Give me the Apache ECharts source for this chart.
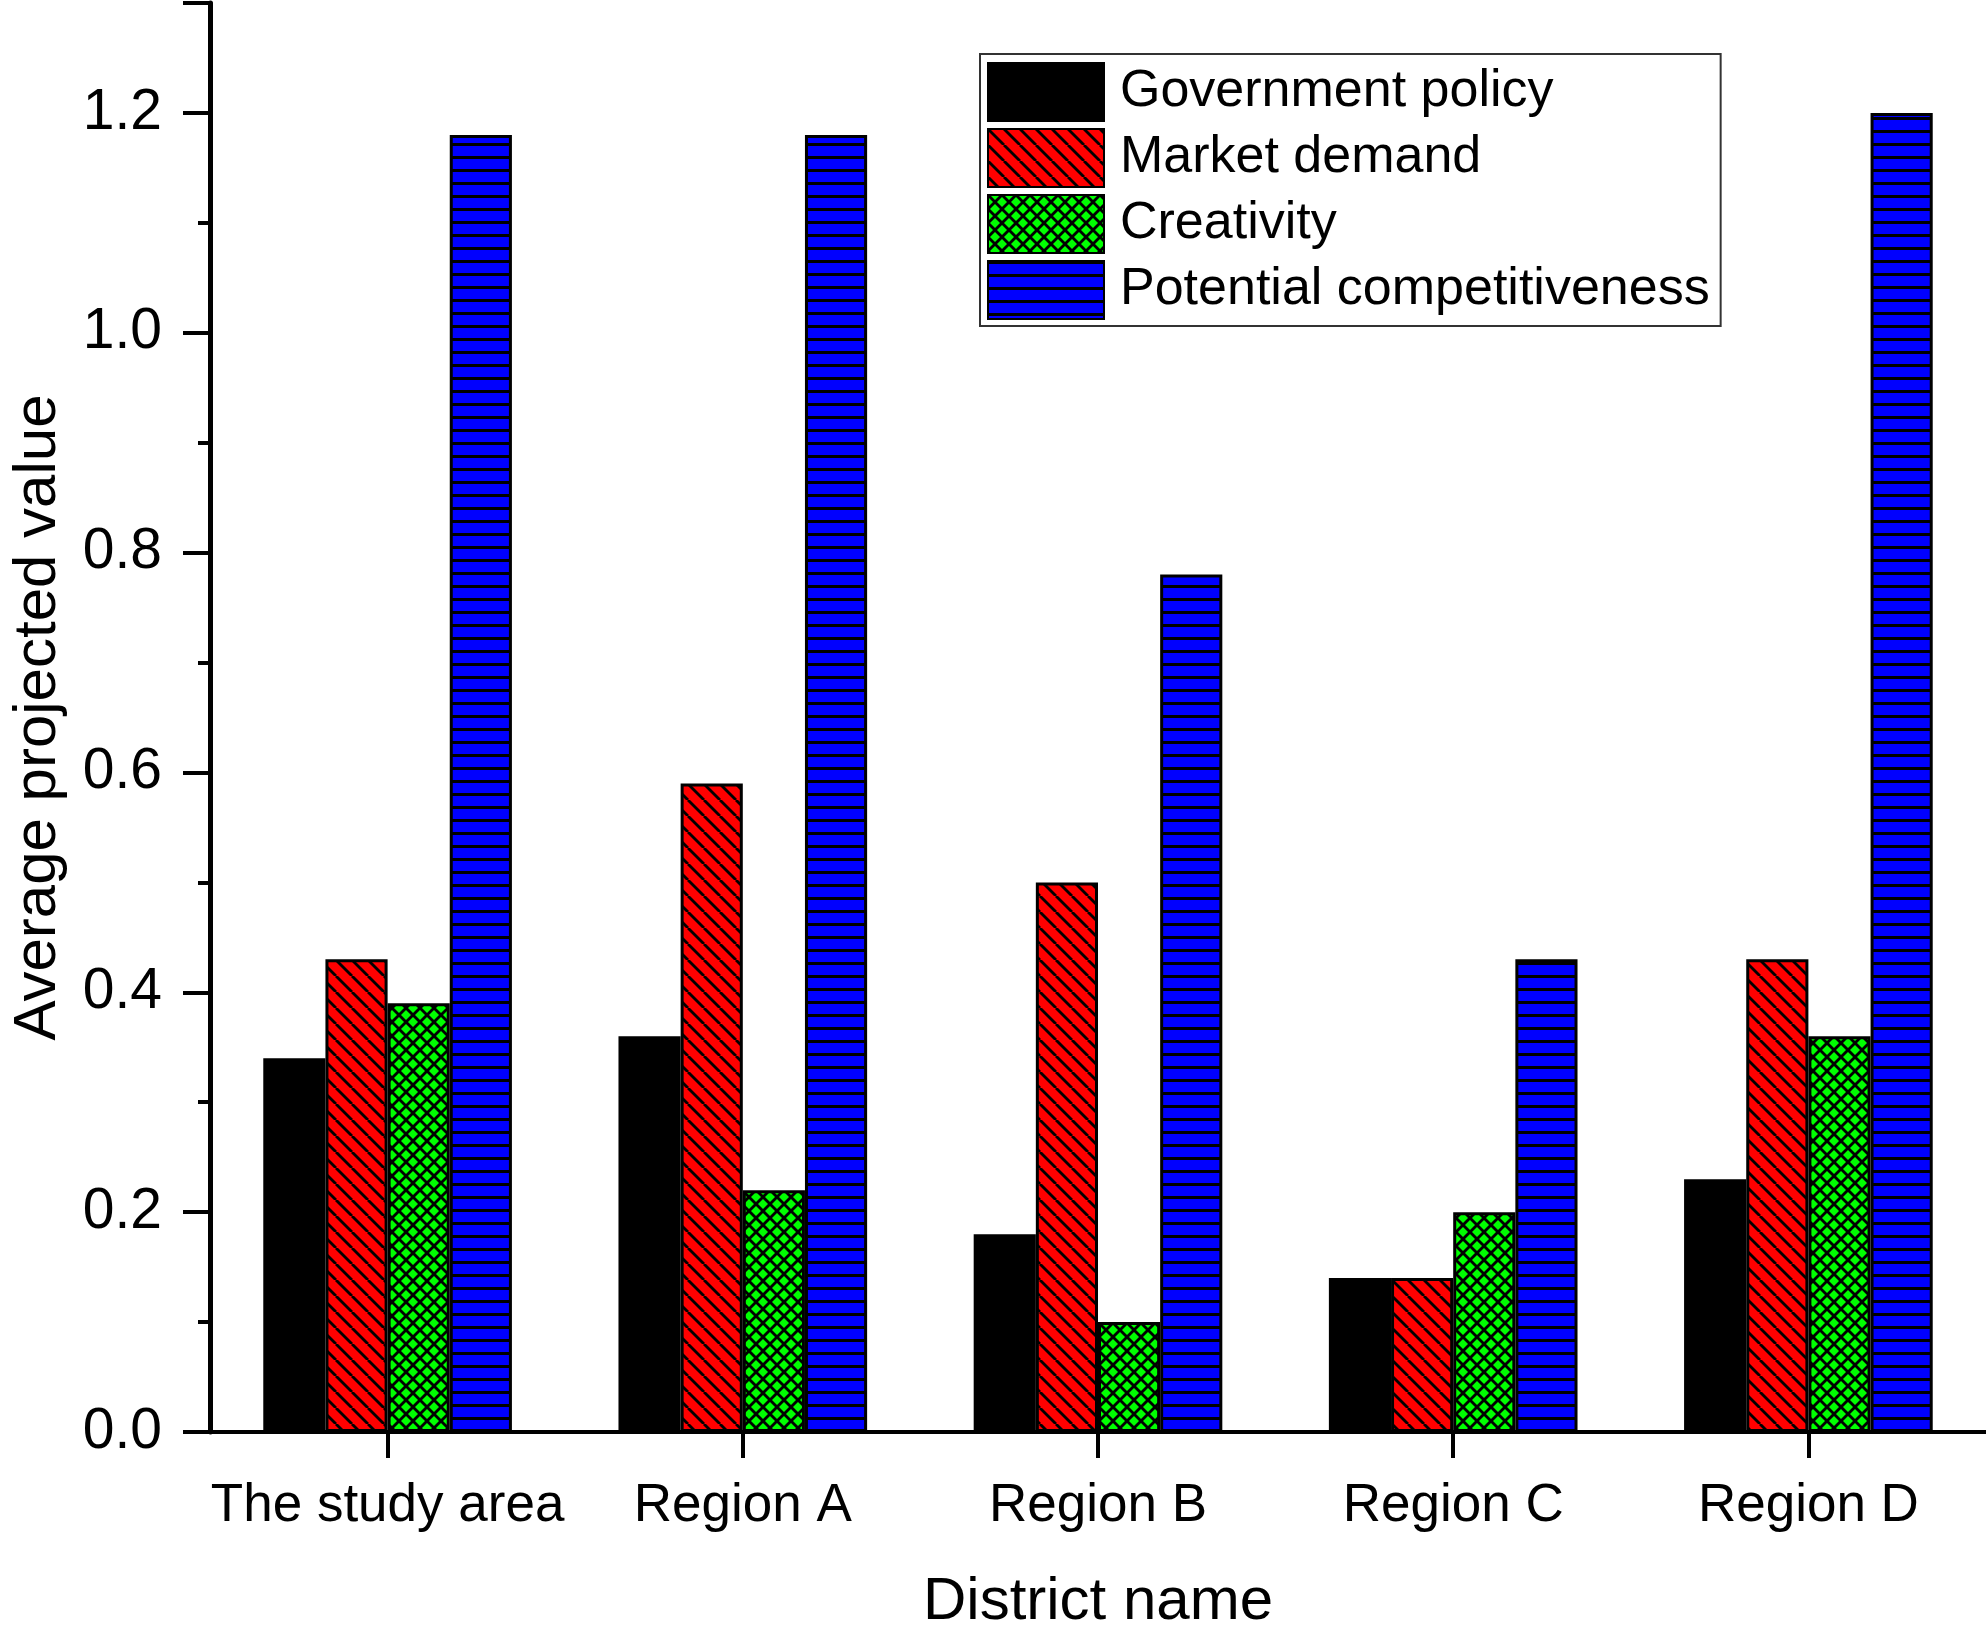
<!DOCTYPE html>
<html>
<head>
<meta charset="utf-8">
<script src="https://cdn.jsdelivr.net/npm/echarts@6/dist/echarts.min.js"></script>
<style>
html,body{margin:0;padding:0;background:#fff;}
#chart{width:1986px;height:1640px;}
</style>
</head>
<body>
<div id="chart"></div>
<script>
var categories = ['The study area', 'Region A', 'Region B', 'Region C', 'Region D'];
var seriesNames = ['Government policy', 'Market demand', 'Creativity', 'Potential competitiveness'];
var governmentPolicy = [0.34, 0.36, 0.18, 0.14, 0.23];
var marketDemand = [0.43, 0.59, 0.50, 0.14, 0.43];
var creativity = [0.39, 0.22, 0.10, 0.20, 0.36];
var potentialCompetitiveness = [1.18, 1.18, 0.78, 0.43, 1.20];
var yTicks = [0.0, 0.2, 0.4, 0.6, 0.8, 1.0, 1.2];

function makePattern(kind, bg, s) {
  var c = document.createElement('canvas');
  if (kind === 'horiz') { c.width = 4; c.height = s; } else { c.width = s; c.height = s; }
  var g = c.getContext('2d');
  g.fillStyle = bg;
  g.fillRect(0, 0, c.width, c.height);
  g.strokeStyle = '#000';
  g.fillStyle = '#000';
  g.lineWidth = 2.8;
  if (kind === 'horiz') {
    g.fillRect(0, 0, 4, 3);
  } else {
    for (var k = -s; k <= s; k += s) {
      g.beginPath(); g.moveTo(k, 0); g.lineTo(k + s, s); g.stroke();
      if (kind === 'cross') {
        g.beginPath(); g.moveTo(k + s, 0); g.lineTo(k, s); g.stroke();
      }
    }
  }
  return { image: c, repeat: 'repeat' };
}

var fills = [
  '#000000',
  makePattern('diag', '#ff0000', 16),
  makePattern('cross', '#00ff00', 14),
  makePattern('horiz', '#0000ff', 13)
];
var dataSets = [governmentPolicy, marketDemand, creativity, potentialCompetitiveness];

var chart = echarts.init(document.getElementById('chart'));
var FONT = 'Liberation Sans, Arial, sans-serif';
var series = seriesNames.map(function (name, i) {
  return {
    name: name,
    type: 'bar',
    data: dataSets[i],
    barGap: '0%',
    barCategoryGap: '30%',
    itemStyle: { color: fills[i], borderColor: '#000', borderWidth: 3 },
    emphasis: { disabled: true }
  };
});

chart.setOption({
  animation: false,
  backgroundColor: '#fff',
  textStyle: { fontFamily: FONT, color: '#000' },
  grid: { left: 210, right: 0, top: 3, bottom: 208, containLabel: false, outerBoundsMode: 'none' },
  legend: {
    orient: 'vertical',
    left: 980,
    top: 54,
    padding: [8, 11, 6, 7],
    borderColor: '#333',
    borderWidth: 2,
    itemGap: 6,
    itemWidth: 116,
    itemHeight: 58,
    icon: 'rect',
    selectedMode: false,
    textStyle: { fontSize: 52, fontFamily: FONT, color: '#000', padding: [0, 0, 0, 11] },
    data: seriesNames
  },
  xAxis: {
    type: 'category',
    data: categories,
    name: 'District name',
    nameLocation: 'middle',
    nameGap: 140,
    nameTextStyle: { fontSize: 60, fontFamily: FONT, color: '#000' },
    axisLine: { show: true, lineStyle: { color: '#000', width: 4 } },
    axisTick: { show: true, alignWithLabel: true, interval: 0, length: 26, lineStyle: { color: '#000', width: 4 } },
    axisLabel: { interval: 0, fontSize: 53, fontFamily: FONT, color: '#000', margin: 48 }
  },
  yAxis: {
    type: 'value',
    min: 0,
    max: 1.3,
    interval: 0.2,
    name: 'Average projected value',
    nameLocation: 'middle',
    nameGap: 142,
    nameTextStyle: { fontSize: 60, fontFamily: FONT, color: '#000' },
    splitLine: { show: false },
    axisLine: { show: true, lineStyle: { color: '#000', width: 5 } },
    axisTick: { show: true, length: 27, lineStyle: { color: '#000', width: 4 } },
    minorTick: { show: true, splitNumber: 2, length: 12, lineStyle: { color: '#000', width: 4 } },
    minorSplitLine: { show: false },
    axisLabel: {
      fontSize: 57, fontFamily: FONT, color: '#000', margin: 48, showMaxLabel: false,
      formatter: function (v) {
        for (var i = 0; i < yTicks.length; i++) {
          if (Math.abs(yTicks[i] - v) < 1e-6) return yTicks[i].toFixed(1);
        }
        return '';
      }
    }
  },
  series: series
});
</script>
</body>
</html>
